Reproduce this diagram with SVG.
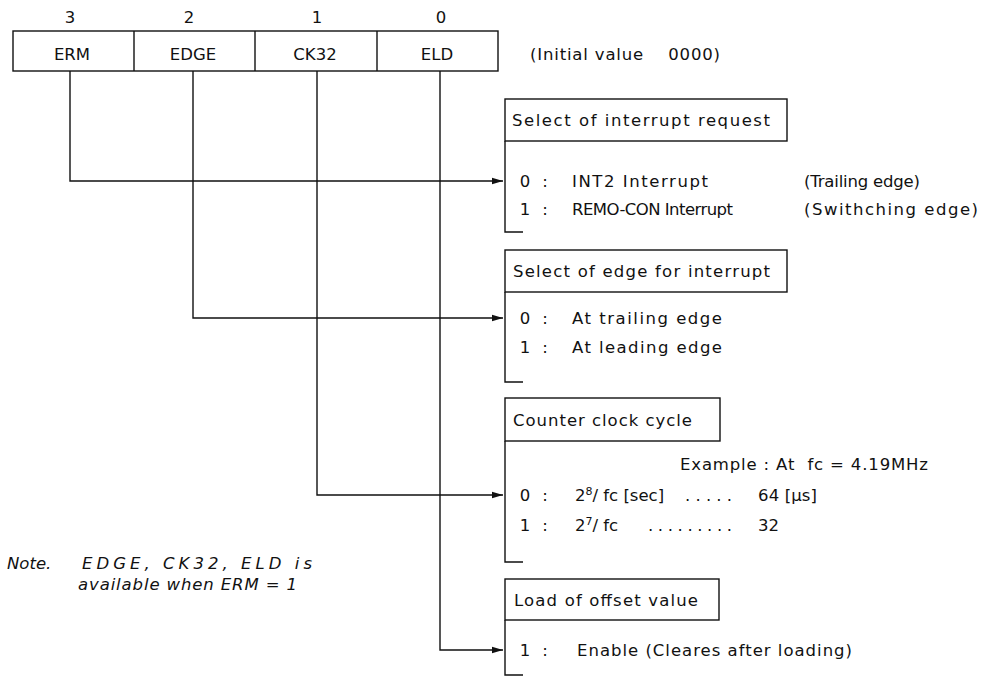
<svg xmlns="http://www.w3.org/2000/svg" width="981" height="677" viewBox="0 0 981 677">
<style>
text{font-family:"DejaVu Sans","Liberation Sans",sans-serif;font-size:16.5px;fill:#111;white-space:pre}
.c{text-anchor:middle}
.it{font-style:italic}
.ln{fill:none;stroke:#111;stroke-width:1.4}
.sup{font-size:11px}
</style>
<defs>
<marker id="ah" markerWidth="12" markerHeight="8" refX="11" refY="4" orient="auto" markerUnits="userSpaceOnUse">
<path d="M0,0.8 L11,4 L0,7.2 Z" fill="#111"/>
</marker>
</defs>
<rect width="981" height="677" fill="#fff"/>

<g id="register">
<rect class="ln" x="13" y="31" width="485" height="40"/>
<line class="ln" x1="134" y1="31" x2="134" y2="71"/>
<line class="ln" x1="255" y1="31" x2="255" y2="71"/>
<line class="ln" x1="377" y1="31" x2="377" y2="71"/>
<text class="c" x="70" y="23">3</text>
<text class="c" x="189" y="23">2</text>
<text class="c" x="317" y="23">1</text>
<text class="c" x="441" y="23">0</text>
<text class="c" x="72" y="60">ERM</text>
<text class="c" x="193" y="60">EDGE</text>
<text class="c" x="315" y="60">CK32</text>
<text class="c" x="437" y="60">ELD</text>
<text x="530" y="60" textLength="190" lengthAdjust="spacing" xml:space="preserve">(Initial value    0000)</text>
</g>

<g id="connectors">
<path class="ln" d="M70 71 V181 H503" marker-end="url(#ah)"/>
<path class="ln" d="M193 71 V318 H503" marker-end="url(#ah)"/>
<path class="ln" d="M317 71 V495 H503" marker-end="url(#ah)"/>
<path class="ln" d="M440 71 V650 H503" marker-end="url(#ah)"/>
</g>

<g id="interrupt-request">
<rect class="ln" x="505" y="99" width="282" height="42"/>
<path class="ln" d="M505 141 V232 H523"/>
<text x="512" y="126" textLength="258" lengthAdjust="spacing">Select of interrupt request</text>
<text class="c" x="525" y="187">0</text>
<text class="c" x="545" y="187">:</text>
<text x="572" y="187" textLength="136" lengthAdjust="spacing">INT2 Interrupt</text>
<text x="804" y="187" textLength="116" lengthAdjust="spacing">(Trailing edge)</text>
<text class="c" x="525" y="215">1</text>
<text class="c" x="545" y="215">:</text>
<text x="572" y="215" textLength="161" lengthAdjust="spacing">REMO-CON Interrupt</text>
<text x="804" y="215" textLength="174" lengthAdjust="spacing">(Swithching edge)</text>
</g>

<g id="edge-select">
<rect class="ln" x="505" y="250" width="282" height="42"/>
<path class="ln" d="M505 292 V382 H523"/>
<text x="513" y="277" textLength="257" lengthAdjust="spacing">Select of edge for interrupt</text>
<text class="c" x="525" y="324">0</text>
<text class="c" x="545" y="324">:</text>
<text x="572" y="324" textLength="150" lengthAdjust="spacing">At trailing edge</text>
<text class="c" x="525" y="353">1</text>
<text class="c" x="545" y="353">:</text>
<text x="572" y="353" textLength="150" lengthAdjust="spacing">At leading edge</text>
</g>

<g id="counter-clock">
<rect class="ln" x="505" y="398" width="215" height="43"/>
<path class="ln" d="M505 441 V562 H523"/>
<text x="513" y="426" textLength="179" lengthAdjust="spacing">Counter clock cycle</text>
<text x="680" y="470" textLength="248" lengthAdjust="spacing" xml:space="preserve">Example : At  fc = 4.19MHz</text>
<text class="c" x="525" y="501">0</text>
<text class="c" x="545" y="501">:</text>
<text x="575" y="501">2<tspan class="sup" dy="-6">8</tspan><tspan dy="6">/ fc [sec]</tspan></text>
<text x="685" y="501" textLength="47" lengthAdjust="spacing">. . . . .</text>
<text x="758" y="501" textLength="59" lengthAdjust="spacing">64 [μs]</text>
<text class="c" x="525" y="531">1</text>
<text class="c" x="545" y="531">:</text>
<text x="575" y="531">2<tspan class="sup" dy="-6">7</tspan><tspan dy="6">/ fc</tspan></text>
<text x="648" y="531" textLength="84" lengthAdjust="spacing">. . . . . . . . .</text>
<text x="758" y="531">32</text>
</g>

<g id="load-offset">
<rect class="ln" x="505" y="579" width="214" height="41"/>
<path class="ln" d="M505 620 V675 H523"/>
<text x="514" y="606" textLength="184" lengthAdjust="spacing">Load of offset value</text>
<text class="c" x="525" y="656">1</text>
<text class="c" x="545" y="656">:</text>
<text x="577" y="656" textLength="275" lengthAdjust="spacing">Enable (Cleares after loading)</text>
</g>

<g id="note">
<text class="it" x="7" y="569">Note.</text>
<text class="it" x="82" y="569" textLength="230" lengthAdjust="spacing" xml:space="preserve">E D G E ,   C K 3 2 ,   E L D   i s</text>
<text class="it" x="78" y="590" textLength="219" lengthAdjust="spacing">available when ERM = 1</text>
</g>
</svg>
